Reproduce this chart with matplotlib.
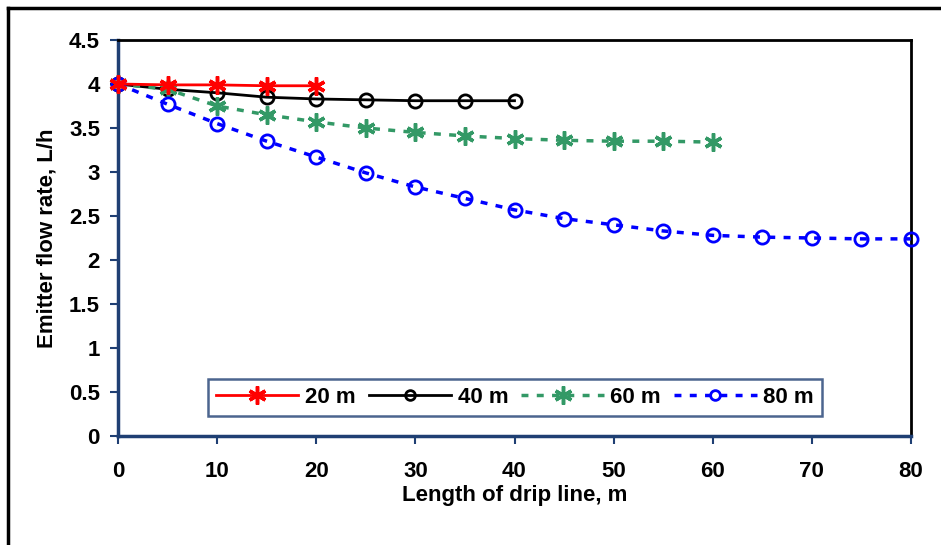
import numpy as np
import matplotlib
matplotlib.use('Agg')
import matplotlib.pyplot as plt
from matplotlib.lines import Line2D

plt.rcParams['font.family'] = ['Liberation Sans', 'DejaVu Sans']
plt.rcParams['font.weight'] = 'bold'

# Emitter flow rate (L/h) along drip lines of different length
x_20 = [0, 5, 10, 15, 20]
q_20 = [4.0, 3.99, 3.99, 3.98, 3.98]

x_40 = [0, 5, 10, 15, 20, 25, 30, 35, 40]
q_40 = [4.0, 3.94, 3.90, 3.85, 3.83, 3.82, 3.81, 3.81, 3.81]

x_60 = [0, 5, 10, 15, 20, 25, 30, 35, 40, 45, 50, 55, 60]
q_60 = [4.0, 3.94, 3.75, 3.65, 3.57, 3.50, 3.45, 3.41, 3.38, 3.36, 3.35, 3.35, 3.34]

x_80 = [0, 5, 10, 15, 20, 25, 30, 35, 40, 45, 50, 55, 60, 65, 70, 75, 80]
q_80 = [4.0, 3.77, 3.55, 3.35, 3.17, 2.99, 2.83, 2.70, 2.57, 2.47, 2.40, 2.33,
        2.28, 2.26, 2.25, 2.24, 2.24]

labels = ['20 m', '40 m', '60 m', '80 m']
navy = '#1F3F73'

fig = plt.figure(figsize=(9.41, 5.45), dpi=100)
ax = fig.add_axes([118/941, 1 - 436/545, 793/941, 396/545])

# outer frame (only top and left edges visible)
fig.add_artist(Line2D([8/941, 8/941], [0, 1 - 8/545], color='black', lw=2.5,
                      transform=fig.transFigure))
fig.add_artist(Line2D([8/941, 1], [1 - 8/545, 1 - 8/545], color='black', lw=2.5,
                      transform=fig.transFigure))

star = (6, 2, 0)
dash = (0, (2, 2.4))
ax.plot(x_20, q_20, color='#FF0000', lw=2, marker=star, ms=13, mew=2.5,
        label=labels[0], clip_on=False, zorder=4)
ax.plot(x_40, q_40, color='black', lw=2, marker='o', ms=9.5, mew=2, mfc='none',
        label=labels[1], clip_on=False, zorder=3)
ax.plot(x_60, q_60, color='#339966', lw=2.5, ls=dash, marker=star,
        ms=13, mew=2.5, label=labels[2], clip_on=False, zorder=3)
ax.plot(x_80, q_80, color='#0000FF', lw=2.5, ls=dash, marker='o',
        ms=9.5, mew=2, mfc='none', label=labels[3], clip_on=False, zorder=3)

ax.set_xlim(0, 80)
ax.set_ylim(0, 4.5)
ax.set_xticks(np.arange(0, 81, 10))
ax.set_yticks(np.arange(0, 4.51, 0.5))
ax.set_yticklabels(['0', '0.5', '1', '1.5', '2', '2.5', '3', '3.5', '4', '4.5'])

for s in ['left', 'bottom']:
    ax.spines[s].set_color(navy)
    ax.spines[s].set_linewidth(2.5)
for s in ['top', 'right']:
    ax.spines[s].set_color('black')
    ax.spines[s].set_linewidth(2)
ax.tick_params(direction='out', length=6, width=1.5, color=navy, labelsize=16)
ax.tick_params(axis='x', pad=12)
ax.tick_params(axis='y', pad=7)

ax.set_xlabel('Length of drip line, m', fontsize=16, fontweight='bold', labelpad=2)
ax.set_ylabel('Emitter flow rate, L/h', fontsize=16, fontweight='bold', labelpad=8)

leg = ax.legend(loc='lower left', bbox_to_anchor=(0.1135, 0.0505), ncol=4,
                fontsize=16, frameon=True, fancybox=False, handlelength=3.7,
                columnspacing=0.6, handletextpad=0.3, borderpad=0.35,
                borderaxespad=0)
leg.get_frame().set_edgecolor(navy)
leg.get_frame().set_linewidth(1.8)
for h in leg.legend_handles:
    if h.get_marker() == 'o':
        h.set_markersize(7)

fig.savefig('out.png', dpi=100)
